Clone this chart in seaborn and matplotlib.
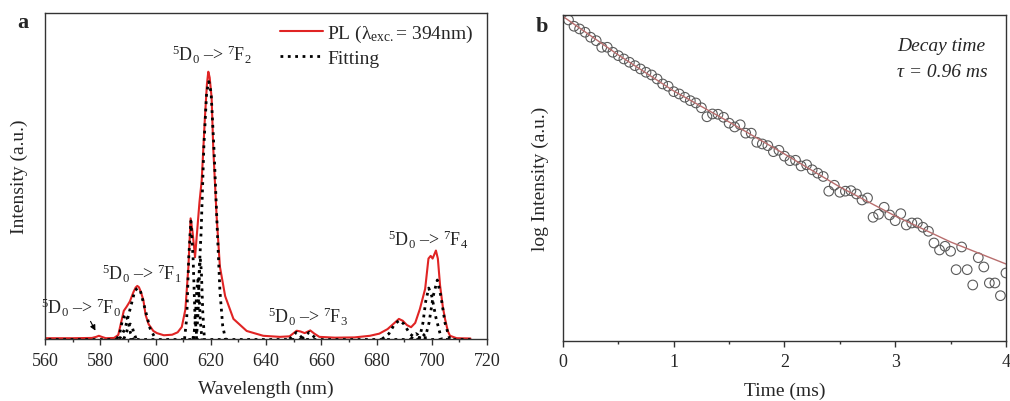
import matplotlib
matplotlib.use("Agg")
import matplotlib.pyplot as plt
import seaborn as sns
import numpy as np
import pandas as pd
from matplotlib.lines import Line2D
from matplotlib.ticker import MultipleLocator

# ---- panel a: PL spectrum (normalised intensity) ----
pl_wl = [560, 570, 577, 578.5, 579.5, 580.5, 582, 585, 586.5, 587.5, 588.5, 589.5,
         590.7, 592, 592.8, 593.4, 594.0, 594.7, 595.6, 596.4, 597.5, 599.2, 600.5, 603, 606, 608,
         609.5, 610.8, 611.9, 612.7, 613.4, 614.3, 615.2, 615.9, 616.7, 617.9, 618.6, 619.1,
         619.6, 620.3, 620.9, 622.1, 623.3, 625.2, 628.2, 633, 639, 645, 648.5, 650, 651.1,
         652.5, 654, 656, 657.5, 659.3, 665, 672, 677.6, 681, 684, 686.5, 688.1, 689.5,
         691, 692.5, 694, 695.7, 697.6, 698.8, 699.6, 700.3, 701.5, 702.2, 703, 704,
         704.8, 705.8, 706.6, 709, 714]
pl_int = [0.003, 0.003, 0.004, 0.008, 0.012, 0.008, 0.003, 0.004, 0.015, 0.06, 0.105, 0.12,
          0.14, 0.175, 0.192, 0.198, 0.193, 0.175, 0.145, 0.09, 0.055, 0.03, 0.022, 0.014, 0.016, 0.025,
          0.045, 0.11, 0.27, 0.45, 0.40, 0.305, 0.42, 0.51, 0.59, 0.83, 0.95, 0.997,
          0.975, 0.90, 0.71, 0.46, 0.27, 0.16, 0.075, 0.03, 0.012, 0.008, 0.01, 0.022, 0.031,
          0.028, 0.022, 0.032, 0.02, 0.008, 0.005, 0.006, 0.012, 0.02, 0.037, 0.06, 0.075, 0.068,
          0.052, 0.044, 0.06, 0.112, 0.187, 0.30, 0.31, 0.30, 0.33, 0.30, 0.20, 0.12,
          0.075, 0.03, 0.012, 0.003, 0.002]

# fitted components (wavelength, intensity)
fit_base = ([561, 714], [0.0015, 0.0015])
fit_589 = ([586.0, 587.0, 588.0, 589.0, 590.0, 591.0, 592.0],
           [0, 0.02, 0.07, 0.093, 0.07, 0.02, 0])
fit_591 = ([588.5, 589.5, 590.2, 590.8, 591.4, 592.1, 593.0],
           [0, 0.025, 0.05, 0.056, 0.05, 0.025, 0])
fit_593 = ([587, 589, 591, 592.5, 593.5, 594.5, 596, 598, 600],
           [0, 0.04, 0.12, 0.18, 0.19, 0.18, 0.12, 0.04, 0])
fit_613 = ([610.5, 611.3, 612.0, 612.8, 613.6, 614.3, 615.0],
           [0, 0.08, 0.30, 0.44, 0.30, 0.08, 0])
fit_615 = ([613.8, 614.4, 614.9, 615.3, 615.7, 616.2, 616.8],
           [0, 0.07, 0.18, 0.22, 0.18, 0.07, 0])
fit_616 = ([614.8, 615.4, 615.9, 616.2, 616.6, 617.1, 617.7],
           [0, 0.10, 0.25, 0.30, 0.25, 0.10, 0])
fit_619 = ([613.5, 615.0, 616.5, 617.5, 618.5, 619.3, 620.1, 621.2, 622.3, 623.3, 624.3, 625.3],
           [0, 0.08, 0.40, 0.72, 0.92, 0.96, 0.92, 0.70, 0.42, 0.18, 0.05, 0])
fit_651 = ([648.5, 650.0, 651.0, 652.0, 653.5], [0, 0.015, 0.025, 0.015, 0])
fit_656 = ([653.0, 654.5, 655.6, 656.7, 658.2], [0, 0.015, 0.025, 0.015, 0])
fit_688 = ([682, 684.5, 686.5, 688.3, 690, 692, 694.5], [0, 0.02, 0.055, 0.07, 0.055, 0.02, 0])
fit_694 = ([692.5, 693.5, 694.3, 695.0, 696.0], [0, 0.015, 0.02, 0.015, 0])
fit_697 = ([695.2, 696.0, 696.6, 697.2, 698.0], [0, 0.015, 0.02, 0.015, 0])
fit_699 = ([695.5, 696.8, 697.8, 698.9, 700.0, 701.5, 703.5], [0, 0.06, 0.14, 0.19, 0.16, 0.08, 0])
fit_702 = ([697.5, 699.0, 700.5, 702.0, 703.3, 704.8, 706.5], [0, 0.06, 0.16, 0.22, 0.16, 0.06, 0])
fit_components = [fit_base, fit_589, fit_591, fit_593, fit_613, fit_615, fit_616, fit_619,
                  fit_651, fit_656, fit_688, fit_694, fit_697, fit_699, fit_702]

# ---- panel b: decay curve ----
decay_t = np.round(np.arange(1, 81) * 0.05, 2)  # sampled every 0.05 ms
decay_log = [3.21, 3.147, 3.12, 3.087, 3.037, 3.003, 2.937, 2.937, 2.887, 2.853,
             2.82, 2.787, 2.753, 2.72, 2.687, 2.66, 2.62, 2.57, 2.547, 2.493,
             2.47, 2.437, 2.403, 2.38, 2.332, 2.242, 2.27, 2.267, 2.237, 2.178,
             2.14, 2.162, 2.078, 2.078, 1.987, 1.97, 1.953, 1.893, 1.907, 1.848,
             1.803, 1.807, 1.75, 1.762, 1.712, 1.678, 1.645, 1.498, 1.557, 1.487,
             1.498, 1.503, 1.47, 1.41, 1.43, 1.237, 1.267, 1.337, 1.26, 1.203,
             1.273, 1.16, 1.18, 1.18, 1.137, 1.097, 0.98, 0.91, 0.947, 0.897,
             0.713, 0.94, 0.713, 0.56, 0.833, 0.74, 0.58, 0.58, 0.453, 0.68]
fit_t = [0, 0.5, 1, 1.5, 2, 2.5, 3, 3.5, 4]
fit_log = [3.245, 2.86, 2.5, 2.19, 1.87, 1.54, 1.25, 0.99, 0.77]

sns.set_theme(style="ticks")
plt.rcParams["font.family"] = ["Liberation Serif", "DejaVu Serif"]
plt.rcParams["mathtext.fontset"] = "custom"
plt.rcParams["mathtext.rm"] = "Liberation Serif"
plt.rcParams["mathtext.it"] = "Liberation Serif:italic"

RED = "#e02424"

fig = plt.figure(figsize=(10.1, 4.02), dpi=100)
ax_a = fig.add_axes([0.0446, 0.1542, 0.4376, 0.811])
ax_b = fig.add_axes([0.5574, 0.1493, 0.4386, 0.811])

pl = pd.DataFrame({"wl": pl_wl, "int": pl_int})
sns.lineplot(data=pl, x="wl", y="int", ax=ax_a, color=RED, linewidth=1.5)
for wl, inten in fit_components:
    sns.lineplot(x=wl, y=inten, ax=ax_a, color="black", linewidth=2.0, linestyle=":")

handles = [Line2D([], [], color=RED, lw=1.5), Line2D([], [], color="black", lw=2.0, ls=":")]
ax_a.legend(handles, ["PL (λ$_{\\rm exc.}$= 394nm)", "Fitting"], loc="upper left",
            bbox_to_anchor=(0.515, 0.995), frameon=False, fontsize=14, handlelength=2.2,
            handletextpad=0.2, labelspacing=0.3, borderaxespad=0)

lab = dict(ha="center", va="center", fontsize=13)
ax_a.text(620.4, 1.063, "$^5$D$_0$ –> $^7$F$_2$", **lab)
ax_a.text(595.1, 0.246, "$^5$D$_0$ –> $^7$F$_1$", **lab)
ax_a.text(573.0, 0.119, "$^5$D$_0$ –> $^7$F$_0$", **lab)
ax_a.text(655.0, 0.086, "$^5$D$_0$ –> $^7$F$_3$", **lab)
ax_a.text(698.7, 0.373, "$^5$D$_0$ –> $^7$F$_4$", **lab)
ax_a.annotate("", xy=(578.7, 0.022), xytext=(576.0, 0.075),
              arrowprops=dict(arrowstyle="-|>", color="black", lw=0.8, mutation_scale=8))

ax_a.set_xlim(560, 720)
ax_a.set_ylim(0, 1.216)
ax_a.xaxis.set_major_locator(MultipleLocator(20))
ax_a.xaxis.set_minor_locator(MultipleLocator(10))
ax_a.set_xlabel("Wavelength (nm)", fontsize=14, labelpad=8)
ax_a.set_ylabel("Intensity (a.u.)", fontsize=14, labelpad=12)

decay = pd.DataFrame({"t": decay_t, "logI": decay_log})
sns.lineplot(x=fit_t, y=fit_log, ax=ax_b, color="#b86e6e", linewidth=1.0)
sns.scatterplot(data=decay, x="t", y="logI", ax=ax_b, s=48, marker="o",
                facecolor="none", edgecolor="#5a5a5a", linewidth=0.8)
ax_b.set_xlim(0, 4)
ax_b.set_ylim(0, 3.26)
ax_b.xaxis.set_major_locator(MultipleLocator(1))
ax_b.xaxis.set_minor_locator(MultipleLocator(0.5))
ax_b.set_xlabel("Time (ms)", fontsize=14, labelpad=8)
ax_b.set_ylabel("log Intensity (a.u.)", fontsize=14, labelpad=10)
ax_b.text(0.953, 0.905, "Decay time", transform=ax_b.transAxes, ha="right", va="center",
          fontsize=14, style="italic")
ax_b.text(0.959, 0.828, "τ = 0.96 ms", transform=ax_b.transAxes, ha="right", va="center",
          fontsize=14, style="italic")

for ax in (ax_a, ax_b):
    ax.set_yticks([])
    ax.tick_params(axis="x", which="major", direction="out", length=4, width=1,
                   labelsize=13, pad=5, color="#333333")
    ax.tick_params(axis="x", which="minor", direction="out", length=2.5, width=1,
                   color="#333333")
    for sp in ax.spines.values():
        sp.set_visible(True)
        sp.set_linewidth(1.0)
        sp.set_color("#333333")

fig.text(0.0228, 0.943, "a", fontsize=16, fontweight="bold", ha="center", va="center")
fig.text(0.5366, 0.933, "b", fontsize=16, fontweight="bold", ha="center", va="center")

fig.savefig("out.png", dpi=100)
